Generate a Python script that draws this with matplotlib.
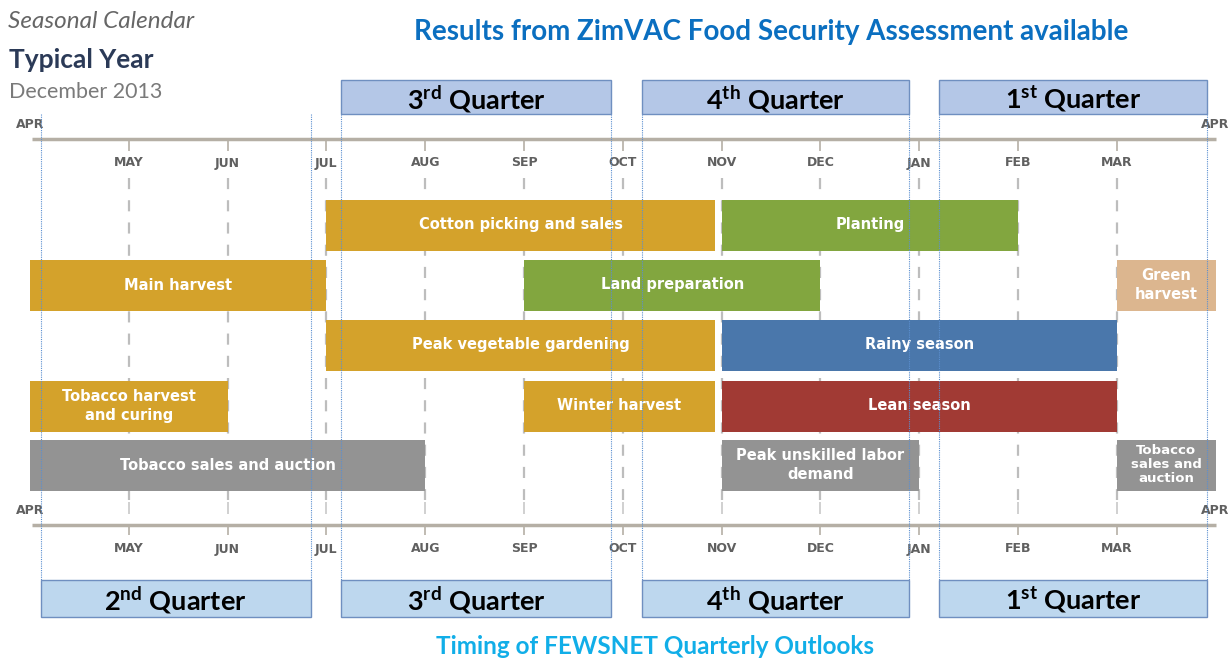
import matplotlib
matplotlib.use('Agg')
import matplotlib.pyplot as plt

# Month axis: 0 = start of April, 12 = end of March
months = ['APR', 'MAY', 'JUN', 'JUL', 'AUG', 'SEP', 'OCT', 'NOV', 'DEC', 'JAN', 'FEB', 'MAR', 'APR']

# Activities (row, start month, end month, label, colour key)
act_rows = [0, 0, 1, 1, 1, 2, 2, 3, 3, 3, 4, 4, 4]
act_start = [3.0, 7.0, 0.0, 5.0, 11.0, 3.0, 7.0, 0.0, 5.0, 7.0, 0.0, 7.0, 11.0]
act_end = [6.93, 10.0, 3.0, 8.0, 12.0, 6.93, 11.0, 2.0, 6.93, 11.0, 4.0, 9.0, 12.0]
act_labels = ['Cotton picking and sales', 'Planting',
              'Main harvest', 'Land preparation', 'Green\nharvest',
              'Peak vegetable gardening', 'Rainy season',
              'Tobacco harvest\nand curing', 'Winter harvest', 'Lean season',
              'Tobacco sales and auction', 'Peak unskilled labor\ndemand',
              'Tobacco\nsales and\nauction']
act_kind = ['harvest', 'planting', 'harvest', 'planting', 'green',
            'harvest', 'rain', 'harvest', 'harvest', 'lean',
            'market', 'market', 'market']

# Quarter boxes (start, end in months)
top_q_labels = [r'3$^{\mathbf{rd}}$ Quarter', r'4$^{\mathbf{th}}$ Quarter', r'1$^{\mathbf{st}}$ Quarter']
top_q_start = [3.15, 6.19, 9.2]
top_q_end = [5.88, 8.9, 11.91]
bot_q_labels = [r'2$^{\mathbf{nd}}$ Quarter', r'3$^{\mathbf{rd}}$ Quarter',
                r'4$^{\mathbf{th}}$ Quarter', r'1$^{\mathbf{st}}$ Quarter']
bot_q_start = [0.11, 3.15, 6.19, 9.2]
bot_q_end = [2.84, 5.88, 8.9, 11.91]

colours = {'harvest': '#d4a22b', 'planting': '#82a63f', 'green': '#dcb68f',
           'rain': '#4a77ab', 'lean': '#a13a34', 'market': '#939393'}

plt.rcParams['font.family'] = ['Lato', 'DejaVu Sans']
plt.rcParams['mathtext.fontset'] = 'custom'
plt.rcParams['mathtext.rm'] = 'Lato'
plt.rcParams['mathtext.bf'] = 'Lato:bold'

fig = plt.figure(figsize=(12.32, 6.62), dpi=100)
ax = fig.add_axes([0, 0, 1, 1])
px = 98.8  # pixels per month
x0 = 30
ax.set_xlim(-x0 / px, (1232 - x0) / px)
ax.set_ylim(662, 0)
ax.axis('off')

row_y = [225, 285, 345, 406, 465]
bar_h = 51

# dashed month gridlines
for m in range(1, 12):
    ax.vlines(m, 178, 500, colors='#bdbdbd', linestyles=(0, (5, 5)), lw=1.6, zorder=1)

# axes lines, ticks and labels
for ya, yl, ytk in [(139, 163, (139, 151)), (525, 549, (525, 535))]:
    ax.hlines(ya, 0.02, 12.0, colors='#b5afa5', lw=2.5, zorder=2)
    for m in range(1, 12):
        ax.vlines(m, ytk[0], ytk[1], colors='#b5afa5', lw=1.2, zorder=2)
        ax.text(m, yl, months[m], ha='center', va='center', fontsize=9,
                fontweight='bold', color='#606060', family='DejaVu Sans')
    ax.text(0.0, ya - 14, 'APR', ha='center', va='center', fontsize=9,
            fontweight='bold', color='#606060', family='DejaVu Sans')
    ax.text(12.0, ya - 14, 'APR', ha='center', va='center', fontsize=9,
            fontweight='bold', color='#606060', family='DejaVu Sans')
# small ticks above bottom axis
for m in range(1, 12):
    ax.vlines(m, 502, 514, colors='#c8c8c8', lw=1.2, zorder=2)

# activity bars
for r, s, e, lab, k in zip(act_rows, act_start, act_end, act_labels, act_kind):
    ax.barh(row_y[r], e - s, left=s, height=bar_h, color=colours[k], zorder=3)
    three = lab.count('\n') > 1
    ax.text((s + e) / 2, row_y[r], lab, ha='center', va='center', color='white',
            fontsize=9.5 if three else 10.5, fontweight='bold',
            linespacing=1.1 if three else 1.3, zorder=4, family='DejaVu Sans')

# quarter boundaries (blue dotted)
for x in sorted(set(bot_q_start + bot_q_end)):
    ax.vlines(x, 114, 580, colors='#5b8fd0', linestyles=(0, (1, 1)), lw=0.8, zorder=5)

# quarter boxes
for lab, s, e in zip(top_q_labels, top_q_start, top_q_end):
    ax.barh(97, e - s, left=s, height=34, color='#b4c7e7', edgecolor='#6f8fc0', lw=1, zorder=6)
    ax.text((s + e) / 2, 99, lab, ha='center', va='center', fontsize=19.5,
            fontweight='bold', color='black', zorder=7)
for lab, s, e in zip(bot_q_labels, bot_q_start, bot_q_end):
    ax.barh(598, e - s, left=s, height=37, color='#bdd7ee', edgecolor='#6f8fc0', lw=1, zorder=6)
    ax.text((s + e) / 2, 600, lab, ha='center', va='center', fontsize=19.5,
            fontweight='bold', color='black', zorder=7)

# titles
ax.text(7.5, 32, 'Results from ZimVAC Food Security Assessment available', ha='center',
        va='center', fontsize=20, fontweight='bold', color='#0b6fc0')
ax.text(6.33, 646, 'Timing of FEWSNET Quarterly Outlooks', ha='center',
        va='center', fontsize=17.5, fontweight='bold', color='#11aee8')

ax.text(-0.22, 22, 'Seasonal Calendar', ha='left', va='center', fontsize=17.5,
        style='italic', color='#666666')
ax.text(-0.21, 60, 'Typical Year', ha='left', va='center', fontsize=19,
        fontweight='bold', color='#2b3a57')
ax.text(-0.21, 92, 'December 2013', ha='left', va='center', fontsize=15.5,
        color='#7a7a7a')

fig.savefig('out.png', dpi=100)
